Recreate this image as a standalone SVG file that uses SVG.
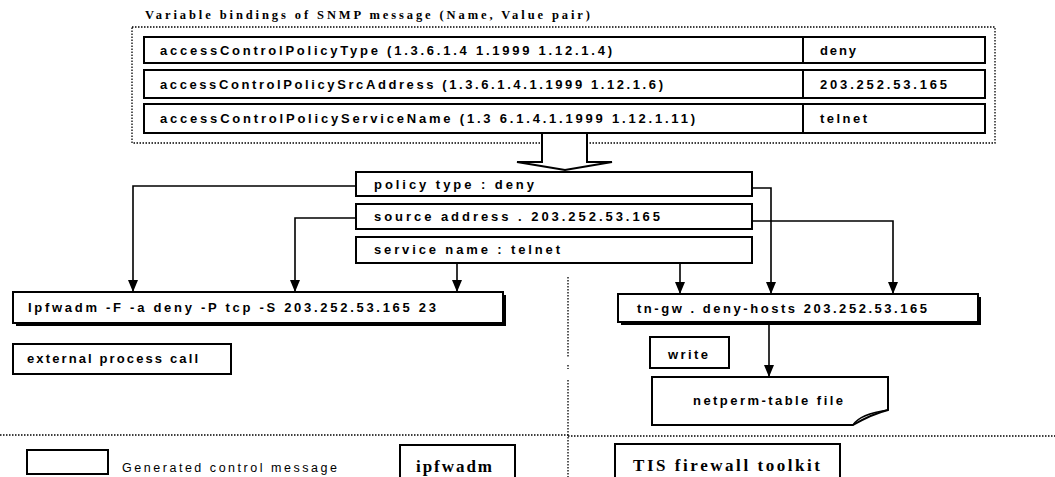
<svg xmlns="http://www.w3.org/2000/svg" width="1055" height="477" viewBox="0 0 1055 477">
<defs>
<style>
.bx{fill:#fff;stroke:#000;stroke-width:2}
.sh{fill:#000}
.dot{fill:none;stroke:#000;stroke-width:1.3;stroke-dasharray:1.5 1.5}
.cn{fill:none;stroke:#000;stroke-width:1.6}
.t{font-family:"Liberation Sans",Arial,sans-serif;font-weight:bold;font-size:13px;fill:#000}
.tn{font-family:"Liberation Sans",Arial,sans-serif;font-size:12.5px;fill:#000}
.ts{font-family:"Liberation Serif","Times New Roman",serif;font-weight:bold;fill:#000}
</style>
<marker id="ah" viewBox="0 0 12 10" refX="12" refY="5" markerWidth="12" markerHeight="10" markerUnits="userSpaceOnUse" orient="auto">
<path d="M0,0 L12,5 L0,10 Z" fill="#000"/>
</marker>
</defs>
<rect width="1055" height="477" fill="#fff"/>

<g id="bindings">
<text class="ts" x="145" y="19" font-size="12.5" textLength="445" lengthAdjust="spacing">Variable bindings of SNMP message (Name, Value pair)</text>
<rect class="dot" x="132" y="27" width="863" height="116"/>
<g id="row1">
<rect class="bx" x="144" y="37" width="841" height="26"/>
<line x1="803" y1="37" x2="803" y2="63" stroke="#000" stroke-width="2"/>
<text class="t" x="160" y="55" textLength="452" lengthAdjust="spacing">accessControlPolicyType (1.3.6.1.4 1.1999 1.12.1.4)</text>
<text class="t" x="820" y="55" textLength="36" lengthAdjust="spacing">deny</text>
</g>
<g id="row2">
<rect class="bx" x="144" y="70" width="841" height="28"/>
<line x1="803" y1="70" x2="803" y2="98" stroke="#000" stroke-width="2"/>
<text class="t" x="160" y="89" textLength="503" lengthAdjust="spacing">accessControlPolicySrcAddress (1.3.6.1.4.1.1999 1.12.1.6)</text>
<text class="t" x="820" y="89" textLength="127" lengthAdjust="spacing">203.252.53.165</text>
</g>
<g id="row3">
<rect class="bx" x="144" y="104" width="841" height="29"/>
<line x1="803" y1="104" x2="803" y2="133" stroke="#000" stroke-width="2"/>
<text class="t" x="160" y="123" textLength="535" lengthAdjust="spacing">accessControlPolicyServiceName (1.3 6.1.4.1.1999 1.12.1.11)</text>
<text class="t" x="820" y="123" textLength="47" lengthAdjust="spacing">telnet</text>
</g>
</g>

<g id="big-arrow">
<path d="M542,134 L542,162 L517,162 L565,170 L612,162 L587,162 L587,134" fill="#fff" stroke="#000" stroke-width="2" stroke-linejoin="miter"/>
</g>

<g id="policy-type">
<rect class="bx" x="356" y="172" width="396" height="24"/>
<text class="t" x="374" y="189" textLength="160" lengthAdjust="spacing">policy type  : deny</text>
</g>
<g id="source-address">
<rect class="bx" x="356" y="204" width="396" height="25"/>
<text class="t" x="374" y="221" textLength="286" lengthAdjust="spacing">source address  . 203.252.53.165</text>
</g>
<g id="service-name">
<rect class="bx" x="356" y="237" width="396" height="26"/>
<text class="t" x="374" y="254" textLength="186" lengthAdjust="spacing">service name  : telnet</text>
</g>

<g id="connectors">
<polyline class="cn" points="356,186 133,186 133,292" marker-end="url(#ah)"/>
<polyline class="cn" points="356,218 295,218 295,292" marker-end="url(#ah)"/>
<polyline class="cn" points="457,263 457,292" marker-end="url(#ah)"/>
<polyline class="cn" points="752,188 771,188 771,294" marker-end="url(#ah)"/>
<polyline class="cn" points="752,221 893,221 893,294" marker-end="url(#ah)"/>
<polyline class="cn" points="680,263 680,294" marker-end="url(#ah)"/>
<polyline class="cn" points="769,322 769,377" marker-end="url(#ah)"/>
</g>

<g id="ipfwadm-cmd">
<rect class="sh" x="16" y="295" width="490" height="31"/>
<rect class="bx" x="13" y="292" width="490" height="31"/>
<text class="t" x="28" y="312" textLength="408" lengthAdjust="spacing">Ipfwadm -F -a deny -P tcp -S 203.252.53.165 23</text>
</g>
<g id="external-process-call">
<rect class="bx" x="13" y="344" width="218" height="30"/>
<text class="t" x="27" y="363" textLength="171" lengthAdjust="spacing">external process call</text>
</g>

<g id="tn-gw">
<rect class="sh" x="621" y="297" width="360" height="28"/>
<rect class="bx" x="618" y="294" width="360" height="28"/>
<text class="t" x="637" y="313" textLength="290" lengthAdjust="spacing">tn-gw . deny-hosts 203.252.53.165</text>
</g>
<g id="write">
<rect class="bx" x="650" y="337" width="79" height="31"/>
<text class="t" x="668" y="359" textLength="40" lengthAdjust="spacing">write</text>
</g>
<g id="netperm">
<path d="M652,377 L888,377 L888,410 Q872,414 853,425 L652,425 Z" fill="#fff" stroke="#000" stroke-width="2"/>
<path d="M853,425 Q860,414 888,410" fill="none" stroke="#000" stroke-width="1.5"/>
<text class="t" x="693" y="405" textLength="150" lengthAdjust="spacing">netperm-table file</text>
</g>

<g id="separators">
<line class="dot" x1="568" y1="277" x2="568" y2="358"/>
<line class="dot" x1="568" y1="365" x2="568" y2="369"/>
<line class="dot" x1="568" y1="380" x2="568" y2="477"/>
<line class="dot" x1="0" y1="435" x2="568" y2="435"/>
<line class="dot" x1="568" y1="436" x2="1055" y2="436"/>
</g>

<g id="legend">
<rect class="bx" x="27" y="450" width="81" height="24" stroke-width="2.5"/>
<text class="tn" x="122" y="472" textLength="215" lengthAdjust="spacing">Generated control message</text>
</g>
<g id="ipfwadm-label">
<path d="M400,477 L400,445 L515,445 L515,477" fill="#fff" stroke="#000" stroke-width="2"/>
<text class="ts" x="416" y="472" font-size="17" textLength="76" lengthAdjust="spacing">ipfwadm</text>
</g>
<g id="tis-label">
<path d="M615,477 L615,444 L840,444 L840,477" fill="#fff" stroke="#000" stroke-width="2"/>
<text class="ts" x="633" y="471" font-size="17" textLength="187" lengthAdjust="spacing">TIS firewall toolkit</text>
</g>
</svg>
